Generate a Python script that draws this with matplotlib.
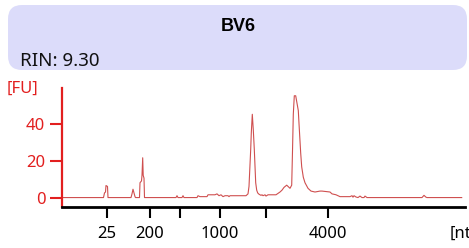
import matplotlib
matplotlib.use("Agg")
import matplotlib.pyplot as plt
from matplotlib.patches import FancyBboxPatch

plt.rcParams['font.family'] = ['Noto Sans', 'DejaVu Sans']

# ---- data (migration position, fluorescence units) ----
sample_name = "BV6"
rin_label = "RIN: 9.30"
x_tick_pos = [44.7, 88, 117.5, 158, 204, 266.3]
x_tick_labels = ['25', '200', '', '1000', '', '4000']
y_ticks = [0, 20, 40]

mig = [0, 41.5, 42.5, 43.5, 44, 45.5, 46, 69, 70, 71, 72, 73, 73.5,
       77.5, 78, 79.5, 80, 80.7, 81.2, 82, 82.5,
       114, 115, 116, 120, 121, 122, 135, 136, 138, 145, 146, 153, 155, 157, 159, 161,
       163, 166, 167, 168, 184, 186,
       187, 188.7, 189.3, 190.3, 191.3, 192.3, 193.7, 194.7, 195.7, 197, 199,
       200, 201, 203, 204, 206, 209, 214, 218, 220, 222, 224.7, 228, 229.7,
       230.5, 231.3, 232.3, 233.7, 236.3, 237, 238.7, 239.7, 241.3, 243, 246, 249, 253,
       258, 260, 268, 270, 274, 278, 288, 290, 291, 292, 294, 296, 298, 300, 302, 303, 305,
       360, 362, 364, 365, 399.7]
fu = [0, 0, 2.5, 3, 6.5, 6, 0, 0, 2, 4.5, 2.5, 0.5, 0,
      0, 8, 9, 12, 21.5, 12, 10.5, 0,
      0, 1, 0, 0, 1, 0, 0, 1, 0.5, 0.5, 1.5, 1.5, 2, 1, 1.5, 0.5,
      1, 1, 0.5, 1, 1, 2,
      6, 26, 35, 45, 36.5, 26, 8, 4, 2.5, 1.8, 1.2,
      1.5, 1, 1.5, 0.8, 1.5, 1.5, 1.5, 3, 4, 5.5, 6.7, 5, 6.7,
      25, 45, 55, 55, 47, 40, 24, 16.6, 11, 8, 5, 3.5, 3,
      3.5, 3.5, 3, 2, 1.5, 0.5, 0.5, 1, 0.2, 1, 0.3, 0, 0.8, 0, 0, 0.8, 0,
      0, 1.2, 0.2, 0, 0]

RED = '#e21f1f'
LINE = '#cf4f4f'

fig = plt.figure(figsize=(4.69, 2.48), dpi=100)

# header panel in pixel coordinates
bg = fig.add_axes([0, 0, 1, 1], zorder=0)
bg.set_xlim(0, 469)
bg.set_ylim(248, 0)
bg.axis('off')
bg.add_patch(FancyBboxPatch((8, 5), 459, 65,
                            boxstyle="round,pad=0,rounding_size=14",
                            fc='#dcdcfa', ec='none'))
bg.text(238, 31, sample_name, ha='center', va='baseline', fontsize=13,
        fontweight='bold', color='black',
        family=['Liberation Sans', 'DejaVu Sans'])
bg.text(20, 66.5, rin_label, ha='left', va='baseline', fontsize=13.5, color='#111111')
bg.text(7, 89, '[FU]', ha='left', va='center', fontsize=12, color=RED)
bg.text(450, 234, '[nt]', ha='left', va='center', fontsize=12, color='black')

ax = fig.add_axes([62 / 469, 1 - 207 / 248, 403 / 469, (207 - 88) / 248], zorder=1)
ax.patch.set_alpha(0)
ax.plot(mig, fu, color=LINE, lw=0.8)
ax.set_xlim(0, 403)
ax.set_ylim(-5.1, 59.2)

for s in ['top', 'right']:
    ax.spines[s].set_visible(False)
ax.spines['left'].set_color(RED)
ax.spines['left'].set_linewidth(1.6)
ax.spines['bottom'].set_color('black')
ax.spines['bottom'].set_linewidth(2)

ax.set_yticks(y_ticks)
ax.set_yticklabels([str(v) for v in y_ticks])
ax.tick_params(axis='y', colors=RED, labelcolor=RED, length=9, width=1.5,
               pad=3, labelsize=12)
ax.set_xticks(x_tick_pos)
ax.set_xticklabels(x_tick_labels)
ax.tick_params(axis='x', colors='black', length=8, width=1.5, pad=6, labelsize=12)

fig.savefig('out.png', dpi=100)
